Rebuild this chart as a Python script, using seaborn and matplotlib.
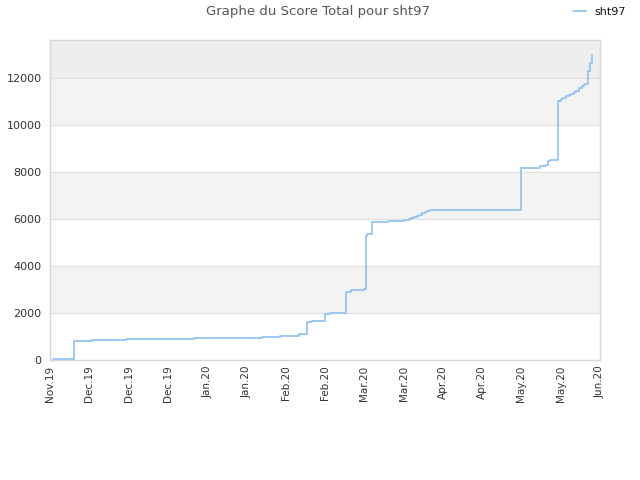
import matplotlib
matplotlib.use("Agg")
import matplotlib.pyplot as plt
import matplotlib.dates as mdates
import seaborn as sns
import pandas as pd
import numpy as np

sns.set_style("white")
plt.rcParams['font.family'] = ['DejaVu Sans']

title = "Graphe du Score Total pour sht97"
series_name = "sht97"

dates = [
    "2019-11-17", "2019-11-25", "2019-12-02", "2019-12-15", "2020-01-10",
    "2020-02-05", "2020-02-12", "2020-02-19", "2020-02-22", "2020-02-24",
    "2020-02-29", "2020-03-02", "2020-03-08", "2020-03-10", "2020-03-15 00:00",
    "2020-03-15 16:00", "2020-03-16", "2020-03-18", "2020-03-24", "2020-03-30",
    "2020-03-31", "2020-04-01", "2020-04-02", "2020-04-03", "2020-04-04",
    "2020-04-05", "2020-04-06", "2020-04-07", "2020-04-08", "2020-04-09",
    "2020-05-14", "2020-05-21", "2020-05-23 12:00", "2020-05-24", "2020-05-25",
    "2020-05-28", "2020-05-29", "2020-05-30", "2020-05-31", "2020-06-01",
    "2020-06-02", "2020-06-03", "2020-06-04", "2020-06-05", "2020-06-06",
    "2020-06-07", "2020-06-08 12:00", "2020-06-09 06:00", "2020-06-09 20:00",
]
scores = [
    30, 810, 850, 890, 935,
    990, 1020, 1090, 1620, 1660,
    1960, 2000, 2900, 2960, 3020,
    5250, 5360, 5870, 5915, 5930,
    5950, 5990, 6030, 6080, 6130,
    6180, 6230, 6280, 6330, 6380,
    8180, 8230, 8300, 8440, 8480,
    11000, 11080, 11140, 11200, 11260,
    11320, 11380, 11440, 11540, 11640,
    11740, 12270, 12640, 12950,
]

tick_start = "2019-11-16"
tick_step_days = 15
n_ticks = 15
y_max = 13600

df = pd.DataFrame({"date": pd.to_datetime(dates, format="mixed"), "score": scores})

fig = plt.figure(figsize=(6.4, 4.8), dpi=100)
ax = fig.add_axes([50/640, 120/480, 550/640, 320/480])

# alternating bands
band_colors = ["#ffffff", "#f3f3f3", "#ffffff", "#f3f3f3", "#ffffff", "#f3f3f3", "#eeeeee"]
for i, c in enumerate(band_colors):
    ax.axhspan(i*2000, (i+1)*2000, color=c, zorder=0, lw=0)
for yv in range(2000, 14000, 2000):
    ax.axhline(yv, color="#e0e0e0", lw=0.9, zorder=1)

sns.lineplot(data=df, x="date", y="score", ax=ax, color="#8fc1f4", lw=1.3,
             drawstyle="steps-post", label=series_name, zorder=3, alpha=0.95)

ticks = pd.date_range(tick_start, periods=n_ticks, freq=f"{tick_step_days}D")
ax.set_xlim(ticks[0], ticks[-1])
ax.set_xticks(ticks)
ax.xaxis.set_major_formatter(mdates.DateFormatter("%b.%y"))
ax.set_ylim(0, y_max)
ax.set_yticks(range(0, 13000, 2000))
ax.tick_params(axis="x", rotation=90, labelsize=7.5, colors="#333333", length=0, pad=4)
ax.tick_params(axis="y", labelsize=8, colors="#333333", length=0, pad=6)
ax.set_xlabel("")
ax.set_ylabel("")
for s in ax.spines.values():
    s.set_color("#d6d6d6")
    s.set_linewidth(1)

fig.text(318/640, 1-12/480, title, ha="center", va="center", fontsize=9.5, color="#555555")
leg = ax.legend(loc="center left", bbox_to_anchor=(567/640, 1-12/480), bbox_transform=fig.transFigure,
                frameon=False, fontsize=8, handlelength=1.2, handletextpad=0.8, borderpad=0)
for t in leg.get_texts():
    t.set_color("#111111")

fig.savefig("out.png", dpi=100)
